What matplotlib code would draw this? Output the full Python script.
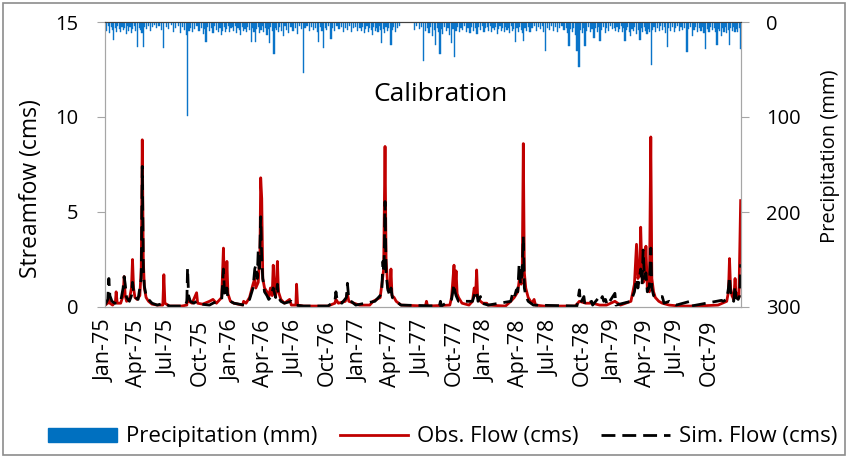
import pandas as pd
import matplotlib
matplotlib.use('Agg')
import matplotlib.pyplot as plt
from matplotlib.patches import Patch, Rectangle
from matplotlib.lines import Line2D

START = pd.Timestamp('1975-01-01')
END = pd.Timestamp('1980-01-01')

# observed flow (cms), days since 1 Jan 1975
obs_day = [0, 8, 11, 14, 22, 30, 32, 35, 45, 52, 55, 58, 62, 70, 76, 79, 82, 86, 92,
           100, 104, 107, 110, 113, 118, 125, 135, 150, 166, 169, 172, 185,
           220, 235, 237, 240, 250, 263, 266, 280, 300, 310, 320,
           335, 340, 343, 347, 350, 353, 360,
           370, 395, 398, 405, 415, 425, 430, 433, 440, 445, 447, 450, 453, 458, 465, 470,
           475, 480, 483, 486, 490, 495, 498, 505, 515, 530, 535, 548, 550, 553, 570,
           640, 660, 663, 670, 690, 696, 700, 730,
           760, 770, 790, 797, 800, 804, 807, 812, 818, 821, 824, 830, 836, 850,
           920, 923, 926,
           990, 995, 1002, 1005, 1008, 1011, 1015, 1025, 1045, 1055, 1060, 1064, 1067,
           1070, 1078, 1085, 1096, 1100,
           1150, 1165, 1175, 1185, 1190, 1195, 1198, 1201, 1204, 1208, 1215, 1225, 1232,
           1236, 1260,
           1350, 1362, 1380, 1400, 1420, 1440, 1464, 1480,
           1510, 1520, 1526, 1530, 1535, 1538, 1542, 1546, 1550, 1553, 1557, 1563, 1567,
           1570, 1575, 1580, 1590, 1600, 1620, 1650,
           1700, 1760, 1785, 1790, 1793, 1796, 1800, 1805, 1809, 1812, 1816, 1820, 1825]
obs_cms = [0.1, 0.2, 0.5, 0.2, 0.1, 0.3, 0.8, 0.2, 0.2, 0.6, 1.6, 0.6, 0.3, 0.4, 1.0, 2.5, 1.0, 0.5, 0.4,
           0.6, 2.0, 8.8, 2.5, 1.0, 0.5, 0.3, 0.15, 0.1, 0.1, 1.7, 0.2, 0.05,
           0.05, 0.1, 0.6, 0.3, 0.2, 0.75, 0.2, 0.15, 0.3, 0.4, 0.2,
           0.5, 3.1, 1.0, 0.8, 2.4, 0.7, 0.3,
           0.2, 0.1, 0.3, 0.2, 0.5, 1.2, 1.5, 1.0, 1.3, 3.0, 6.8, 5.7, 1.5, 1.0, 0.8, 0.5,
           1.0, 0.6, 2.2, 0.8, 0.6, 2.4, 0.8, 0.4, 0.2, 0.4, 0.1, 0.1, 1.2, 0.1, 0.05,
           0.05, 0.2, 0.4, 0.2, 0.3, 0.7, 0.3, 0.1,
           0.1, 0.3, 0.5, 1.5, 2.0, 8.45, 2.5, 1.0, 0.8, 2.0, 0.6, 0.5, 0.3, 0.1,
           0.05, 0.3, 0.05,
           0.1, 0.5, 2.2, 1.0, 1.9, 0.7, 0.5, 0.2, 0.1, 0.3, 1.0, 0.6, 1.95,
           0.5, 0.3, 0.2, 0.2, 0.1,
           0.05, 0.3, 0.5, 0.8, 1.5, 1.2, 2.0, 8.6, 1.8, 1.0, 0.5, 0.2, 0.4,
           0.1, 0.05,
           0.05, 0.3, 0.2, 0.2, 0.1, 0.1, 0.3, 0.1,
           0.3, 1.2, 3.3, 1.5, 1.8, 4.2, 1.5, 1.3, 1.5, 3.2, 1.0, 0.8, 8.95,
           1.5, 0.8, 0.5, 0.3, 0.2, 0.1, 0.05,
           0.05, 0.1, 0.3, 0.8, 2.55, 1.0, 0.6, 0.4, 1.5, 0.6, 0.7, 0.5, 5.6]

# simulated flow (cms)
sim_day = [0, 8, 11, 14, 20, 28, 35, 45, 52, 55, 58, 62, 70, 76, 79, 82, 88, 95,
           104, 107, 110, 113, 118, 125, 135, 150, 169, 185, 230, 235, 237, 240, 245,
           255, 263, 275, 300, 310,
           335, 340, 343, 347, 350, 353, 360,
           370, 400, 415, 425, 430, 433, 437, 440, 443, 447, 450, 453, 458, 465, 470,
           475, 483, 490, 495, 498, 505, 515, 535, 545, 570,
           640, 660, 663, 667, 680, 693, 696, 700, 720,
           775, 790, 795, 798, 801, 804, 807, 812, 818, 821, 825, 835, 850,
           960, 963, 966,
           995, 1002, 1005, 1008, 1015, 1055, 1060, 1067, 1071, 1078, 1082, 1100,
           1165, 1170, 1175, 1181, 1185, 1189, 1193, 1197, 1201, 1204, 1208, 1215, 1230,
           1355, 1362, 1365, 1375, 1378, 1397, 1400, 1420, 1424, 1428, 1432, 1437, 1442,
           1464, 1467,
           1510, 1520, 1526, 1530, 1538, 1542, 1545, 1549, 1553, 1557, 1563, 1567, 1570,
           1575, 1585, 1600, 1605, 1620, 1640,
           1680, 1683, 1755, 1770, 1775, 1785, 1790, 1793, 1796, 1800, 1805, 1809, 1812,
           1818, 1822, 1825]
sim_cms = [0.1, 0.4, 1.5, 0.6, 0.3, 0.2, 0.2, 0.3, 1.0, 1.6, 1.2, 0.5, 0.3, 0.6, 1.3, 0.8, 0.5, 0.4,
           1.5, 7.4, 2.0, 1.1, 0.6, 0.4, 0.2, 0.1, 0.2, 0.05, 0.05, 0.3, 2.05, 0.6, 0.3,
           0.2, 0.3, 0.15, 0.1, 0.2,
           0.4, 2.0, 0.8, 0.5, 1.0, 0.4, 0.3,
           0.2, 0.1, 0.4, 1.0, 2.0, 2.2, 1.5, 3.0, 1.8, 4.75, 2.5, 1.5, 0.8, 0.6, 0.4,
           0.5, 1.0, 0.5, 1.2, 0.5, 0.3, 0.2, 0.3, 0.1, 0.05,
           0.05, 0.3, 0.8, 0.3, 0.2, 0.5, 1.25, 0.4, 0.1,
           0.3, 0.6, 1.0, 2.4, 1.8, 5.55, 1.8, 0.9, 0.6, 1.0, 0.5, 0.3, 0.1,
           0.05, 0.3, 0.05,
           0.4, 1.2, 0.8, 0.6, 0.3, 0.3, 0.6, 0.85, 0.3, 0.55, 0.2, 0.1,
           0.3, 0.7, 0.5, 0.9, 0.8, 2.25, 1.2, 1.5, 3.7, 1.0, 0.6, 0.3, 0.1,
           0.05, 0.9, 0.2, 0.55, 0.1, 0.3, 0.1, 0.55, 0.4, 0.55, 0.3, 0.4, 0.1,
           0.72, 0.1,
           0.3, 0.8, 1.5, 1.0, 2.0, 1.2, 3.0, 1.5, 1.8, 0.8, 1.1, 3.1, 1.0,
           0.6, 0.5, 0.55, 0.2, 0.3, 0.1,
           0.3, 0.05, 0.3, 0.35, 0.3, 0.4, 1.0, 1.6, 0.8, 0.5, 0.3, 1.1, 0.5,
           0.4, 0.6, 2.25]

# daily precipitation (mm)
rain_day = [2, 5, 9, 14, 18, 21, 25, 29, 33, 37, 41, 45, 49, 53, 57, 61, 65, 68, 72, 76, 80, 84, 88,
            94, 98, 102, 106, 110, 114, 118, 124, 130, 136, 142, 148, 155, 162, 169, 176, 183,
            190, 196, 203, 210, 216, 222, 228, 233, 237, 241, 246, 252, 258, 264, 270, 276,
            282, 286, 290, 295, 300, 305, 310, 315, 320, 325, 330, 334, 338, 342, 346, 350,
            354, 358, 362,
            366, 370, 374, 378, 382, 386, 390, 394, 398, 402, 406, 410, 414, 420, 424, 428,
            432, 436, 440, 444, 448, 452, 456, 460, 465, 468, 472, 476, 480, 485, 489, 493,
            497, 502, 507, 512, 517, 522, 528, 534, 540, 546, 552, 558, 564, 569, 574, 580,
            586, 592, 598, 604, 609, 614, 619, 623, 627, 632, 637, 642, 649, 654, 660, 666,
            672, 678, 684, 690, 696, 702, 708, 714, 720, 726,
            732, 736, 740, 744, 748, 752, 756, 760, 764, 768, 772, 776, 780, 784, 788, 792,
            795, 799, 803, 807, 811, 815, 821, 825, 829, 834, 840, 846, 889, 895, 902, 908,
            915, 920, 925, 930, 935, 940, 945, 950, 955, 958, 962, 966, 970, 975, 980, 985,
            990, 995, 999, 1004, 1008, 1012, 1017, 1022, 1027, 1032, 1037, 1042, 1048, 1053,
            1058, 1063, 1068, 1073, 1078, 1083, 1088, 1093,
            1098, 1102, 1106, 1110, 1114, 1118, 1122, 1126, 1130, 1134, 1138, 1142, 1146,
            1150, 1154, 1158, 1162, 1166, 1170, 1174, 1179, 1183, 1187, 1191, 1195, 1198,
            1202, 1206, 1210, 1215, 1220, 1226, 1232, 1238, 1244, 1250, 1256, 1260, 1265,
            1270, 1276, 1282, 1288, 1294, 1300, 1306, 1312, 1318, 1324, 1328, 1332, 1337,
            1342, 1346, 1350, 1355, 1358, 1361, 1365, 1370, 1374, 1378, 1383, 1388, 1393,
            1398, 1404, 1409, 1414, 1418, 1421, 1426, 1431, 1436, 1441, 1446, 1451, 1456,
            1462, 1466, 1470, 1474, 1478, 1482, 1486, 1490, 1493, 1497, 1501, 1505, 1509,
            1513, 1517, 1521, 1527, 1531, 1536, 1540, 1544, 1548, 1552, 1556, 1560, 1564,
            1568, 1572, 1576, 1581, 1586, 1591, 1596, 1601, 1606, 1610, 1614, 1619, 1624,
            1629, 1634, 1639, 1644, 1649, 1654, 1659, 1664, 1671, 1676, 1681, 1686, 1691,
            1696, 1701, 1706, 1711, 1716, 1720, 1724, 1729, 1734, 1739, 1744, 1749, 1753,
            1757, 1761, 1765, 1769, 1773, 1777, 1781, 1785, 1789, 1793, 1797, 1801, 1805,
            1809, 1813, 1817, 1821, 1825]
rain_mm = [6, 9, 4, 12, 5, 8, 19, 6, 10, 4, 7, 11, 5, 8, 6, 13, 4, 9, 5, 12, 7, 4, 9,
           26, 6, 8, 12, 26, 5, 7, 4, 9, 5, 3, 6, 4, 8, 27, 5, 7,
           3, 10, 6, 4, 12, 5, 8, 14, 99, 9, 6, 11, 7, 4, 9, 6,
           13, 7, 21, 5, 9, 6, 12, 4, 8, 10, 6, 14, 9, 5, 11, 7,
           4, 10, 6,
           5, 9, 4, 12, 6, 8, 14, 5, 9, 7, 11, 5, 8, 21, 6, 10,
           21, 7, 5, 12, 8, 4, 10, 6, 14, 7, 22, 5, 9, 34, 6, 8,
           11, 5, 9, 15, 4, 8, 12, 5, 9, 6, 13, 4, 7, 54, 6, 4,
           9, 5, 8, 6, 11, 21, 5, 9, 27, 6, 8, 4, 18, 6, 9, 4,
           7, 5, 10, 6, 8, 4, 11, 6, 5, 9,
           6, 9, 5, 12, 7, 4, 10, 6, 8, 14, 5, 9, 6, 11, 4, 8,
           22, 7, 12, 5, 9, 6, 24, 8, 5, 10, 6, 4, 8, 4, 7, 5,
           41, 9, 6, 12, 5, 15, 8, 24, 6, 11, 34, 7, 13, 5, 9, 6,
           14, 22, 7, 37, 9, 5, 11, 6, 8, 4, 10, 6, 12, 5,
           9, 6, 13, 5, 8, 4, 10, 6,
           5, 9, 4, 11, 6, 8, 5, 13, 7, 4, 9, 6, 11,
           5, 8, 6, 12, 4, 9, 7, 21, 6, 10, 5, 8, 12,
           20, 6, 9, 5, 11, 6, 4, 9, 5, 7, 4, 10, 31,
           6, 8, 4, 9, 5, 11, 6, 4, 8, 6, 12, 25, 7,
           10, 6, 14, 31, 9, 47, 8, 12, 6, 25, 9, 5, 11,
           7, 17, 6, 10, 5, 20, 8, 5, 12, 6, 9, 4, 7,
           6, 9, 5, 11, 7, 4, 10, 6, 20, 8, 5, 11, 15,
           7, 9, 5, 13, 8, 19, 6, 10, 5, 9, 13, 7, 11,
           45, 8, 5, 10, 6, 9, 4, 8, 5, 12, 26, 6, 9,
           5, 11, 6, 4, 9, 5, 8, 6, 32, 7, 5, 15, 8,
           5, 10, 6, 9, 5, 12, 28, 7, 10, 5, 8, 6, 11,
           24, 7, 9, 15, 6, 10, 5, 12, 8, 24, 6, 9, 5,
           11, 7, 10, 6, 28]

tick_months = pd.date_range('1975-01-01', '1979-10-01', freq='3MS')
tick_labels = [d.strftime('%b-%y') for d in tick_months]


def to_dates(days):
    return START + pd.to_timedelta(days, unit='D')


plt.rcParams['font.family'] = ['Open Sans', 'DejaVu Sans']
grey = '#A6A6A6'

fig = plt.figure(figsize=(8.48, 4.58), dpi=100)
ax = fig.add_axes([105 / 848, 1 - 307 / 458, 636 / 848, 285 / 458])
ax2 = ax.twinx()

# precipitation hanging from the top
ax2.bar(to_dates(rain_day), rain_mm, width=3.4, color='#0A74C9', edgecolor='#0A74C9',
        linewidth=0.3)
ax2.set_ylim(300, 0)
ax2.set_yticks([0, 100, 200, 300])

ax.plot(to_dates(obs_day), obs_cms, color='#C00000', lw=2)
ax.plot(to_dates(sim_day), sim_cms, color='black', lw=2, dashes=(5, 2.5))
ax.set_ylim(0, 15)
ax.set_yticks([0, 5, 10, 15])
ax.set_xlim(START, END)
ax.set_xticks(tick_months)
ax.set_xticklabels(tick_labels, rotation=90)

for a in (ax, ax2):
    for s in ('left', 'right', 'bottom'):
        a.spines[s].set_color(grey)
    a.spines['top'].set_color('#404040')
ax.tick_params(axis='y', direction='out', length=6, color=grey, labelsize=14.5, pad=13)
ax2.tick_params(axis='y', direction='out', length=6, color=grey, labelsize=14.5, pad=12)
ax.tick_params(axis='x', length=0, labelsize=15.5, pad=9)

ax.set_ylabel('Streamfow (cms)', fontsize=16.5)
ax.yaxis.set_label_coords(-0.0975, 0.414)
ax2.set_ylabel('Precipitation (mm)', fontsize=14.5)
ax2.yaxis.set_label_coords(1.125, 0.53)

ax.text(0.527, 0.744, 'Calibration', transform=ax.transAxes, ha='center', va='center',
        fontsize=19)

handles = [Patch(color='#0070C0'),
           Line2D([], [], color='#C00000', lw=2),
           Line2D([], [], color='black', lw=2, dashes=(5, 2.5))]
fig.legend(handles, ['Precipitation (mm)', 'Obs. Flow (cms)', 'Sim. Flow (cms)'],
           loc='center', bbox_to_anchor=(0.522, 0.046), ncol=3, frameon=False,
           fontsize=16, handlelength=3.1, handleheight=0.6, handletextpad=0.4,
           columnspacing=1.0)

fig.add_artist(Rectangle((0.004, 0.006), 0.992, 0.988, transform=fig.transFigure,
                         fill=False, ec='#8C8C8C', lw=1.2))

fig.savefig('out.png', dpi=100)
